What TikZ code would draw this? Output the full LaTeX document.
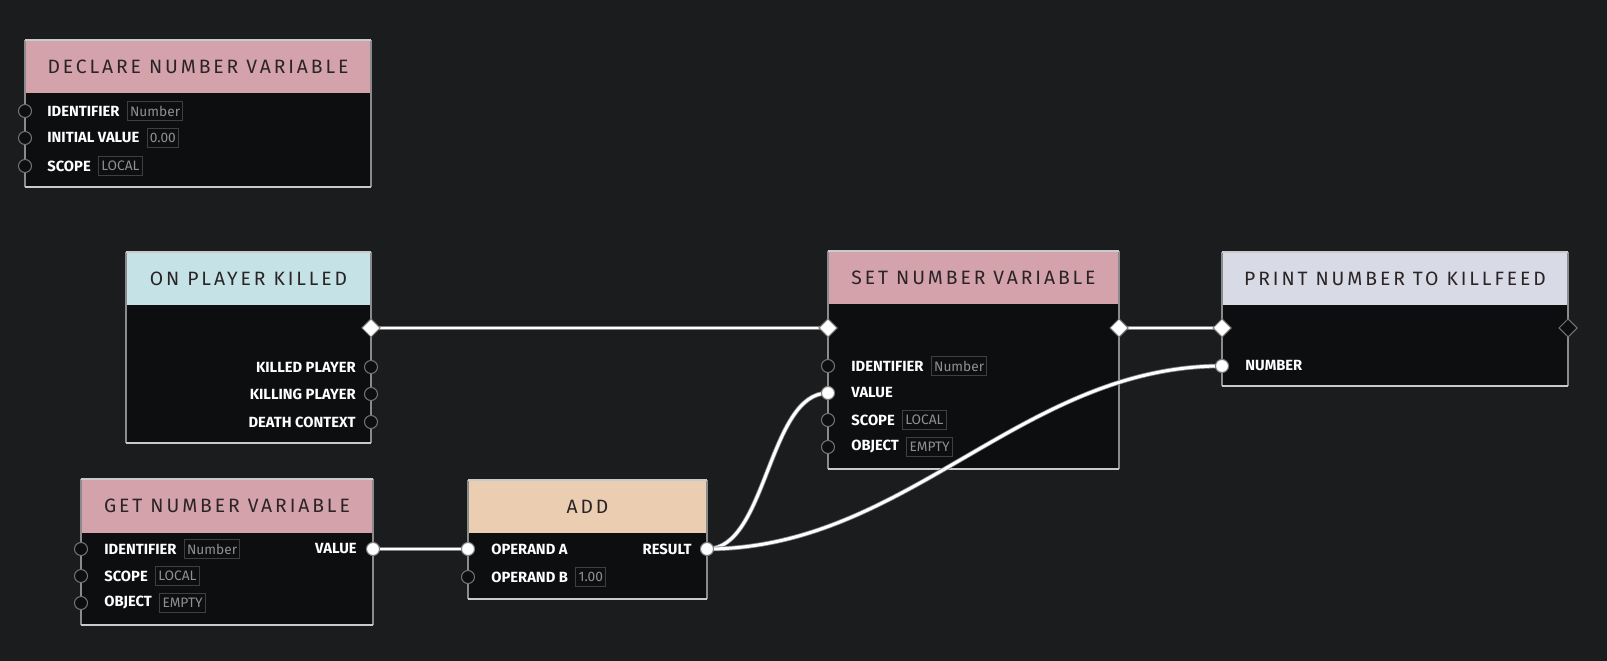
\documentclass[tikz,border=0pt]{standalone}
\usepackage{fontspec}
\setmainfont{Fira Sans}
\newfontfamily\headfont[LetterSpace=15]{Fira Sans}
\usetikzlibrary{positioning,shapes.geometric}

\definecolor{canvas}{HTML}{1B1C1E}
\definecolor{panel}{HTML}{0D0E10}
\definecolor{rimgray}{HTML}{8A8B8D}
\definecolor{bargray}{HTML}{C9CACC}
\definecolor{pinkhead}{HTML}{D4A2AA}
\definecolor{cyanhead}{HTML}{C5E3E6}
\definecolor{peachhead}{HTML}{EBCEB1}
\definecolor{lilachead}{HTML}{D8DAE5}
\definecolor{headink}{HTML}{2A2426}
\definecolor{tagline}{HTML}{3E3F42}
\definecolor{tagink}{HTML}{8F9092}

\pgfdeclarelayer{cards}
\pgfdeclarelayer{wires}
\pgfsetlayers{cards,wires,main}

\begin{document}
\begin{tikzpicture}[x=0.02cm, y=-0.02cm,
		rim/.style = {draw=rimgray, line width=0.6pt},
		edgebar/.style = {draw=bargray, line width=1.1pt},
		headtext/.style = {text=headink, font=\headfont\fontsize{11}{13}\selectfont},
		lab/.style = {text=white, inner sep=0pt, font=\bfseries\fontsize{8.4}{10}\selectfont},
		tag/.style = {draw=tagline, line width=0.5pt, text=tagink, inner xsep=1.6pt, inner ysep=0pt,
			minimum height=10.5pt, font=\fontsize{7.8}{9}\selectfont},
		port/.style = {circle, draw=rimgray!120, fill=panel, line width=0.6pt, minimum size=7.4pt, inner sep=0pt},
		hotport/.style = {port, fill=white, draw=gray},
		flow/.style = {diamond, draw=gray, fill=white, line width=0.6pt, minimum width=10.5pt, minimum height=10.5pt, inner sep=0pt},
		deadflow/.style = {flow, fill=panel, draw=rimgray!120},
		wire/.style = {draw=gray, double=white, double distance=1.7pt, line width=0.45pt}]
				% canvas
				\begin{pgfonlayer}{cards}
				\fill[canvas] (0,0) rectangle (1607,661);
				\end{pgfonlayer}
				\useasboundingbox (0,0) rectangle (1607,661);
				
				% card: name, x1, y1, x2, y2, header bottom, colour, title
				\def\card#1#2#3#4#5#6#7#8{
					\begin{pgfonlayer}{cards}
					\fill[panel] (#2,#3) rectangle (#4,#5);
					\fill[#7] (#2,#3) rectangle (#4,#6);
					\draw[rim] (#2,#3) -- (#2,#5) (#4,#3) -- (#4,#5);
					\draw[edgebar] (#2,#3) -- (#4,#3) (#2,#5) -- (#4,#5);
					\end{pgfonlayer}
					\node[headtext] (#1) at ({(#2+#4)/2},{(#3+#6)/2}) {#8};
				}
				
				\card{dec}{25}{40}{371}{187}{93}{pinkhead}{DECLARE NUMBER VARIABLE}
				\card{opk}{126}{252}{371}{443}{305}{cyanhead}{ON PLAYER KILLED}
				\card{get}{81}{479}{373}{625}{533}{pinkhead}{GET NUMBER VARIABLE}
				\card{add}{468}{480}{707}{599}{533}{peachhead}{ADD}
				\card{set}{828}{251}{1119}{469}{304}{pinkhead}{SET NUMBER VARIABLE}
				\card{prt}{1222}{252}{1568}{386}{305}{lilachead}{PRINT NUMBER TO KILLFEED}
				
				% declare number variable
				\node[port] (dec-id) at (25,111) {};
				\node[port] (dec-init) at (25,138) {};
				\node[port] (dec-scope) at (25,166) {};
				\node[lab, anchor=west] (dec-idl) at (47,111) {IDENTIFIER};
				\node[lab, anchor=west] (dec-initl) at (47,138) {INITIAL VALUE};
				\node[lab, anchor=west] (dec-scopel) at (47,166) {SCOPE};
				\node[tag, right=4pt of dec-idl] (dec-idt) {Number};
				\node[tag, right=4pt of dec-initl] (dec-initt) {0.00};
				\node[tag, right=4pt of dec-scopel] (dec-scopet) {LOCAL};
				
				% on player killed
				\node[flow] (opk-out) at (371,328) {};
				\node[port] (opk-killed) at (371,367) {};
				\node[port] (opk-killer) at (371,394) {};
				\node[port] (opk-ctx) at (371,422) {};
				\node[lab, anchor=east] (opk-killedl) at (356,367) {KILLED PLAYER};
				\node[lab, anchor=east] (opk-killerl) at (356,394) {KILLING PLAYER};
				\node[lab, anchor=east] (opk-ctxl) at (356,422) {DEATH CONTEXT};
				
				% get number variable
				\node[port] (get-id) at (81,549) {};
				\node[port] (get-scope) at (81,576) {};
				\node[port] (get-obj) at (81,603) {};
				\node[hotport] (get-val) at (373,549) {};
				\node[lab, anchor=west] (get-idl) at (104,549) {IDENTIFIER};
				\node[lab, anchor=west] (get-scopel) at (104,576) {SCOPE};
				\node[lab, anchor=west] (get-objl) at (104,603) {OBJECT};
				\node[lab, anchor=east] (get-vall) at (357,549) {VALUE};
				\node[tag, right=4pt of get-idl] (get-idt) {Number};
				\node[tag, right=4pt of get-scopel] (get-scopet) {LOCAL};
				\node[tag, right=4pt of get-objl] (get-objt) {EMPTY};
				
				% add
				\node[hotport] (add-a) at (468,549) {};
				\node[port] (add-b) at (468,577) {};
				\node[hotport] (add-res) at (707,549) {};
				\node[lab, anchor=west] (add-al) at (491,549) {OPERAND A};
				\node[lab, anchor=west] (add-bl) at (491,577) {OPERAND B};
				\node[lab, anchor=east] (add-resl) at (692,549) {RESULT};
				\node[tag, right=4pt of add-bl] (add-bt) {1.00};
				
				% set number variable
				\node[flow] (set-in) at (828,328) {};
				\node[flow] (set-out) at (1119,328) {};
				\node[port] (set-id) at (828,366) {};
				\node[hotport] (set-val) at (828,393) {};
				\node[port] (set-scope) at (828,420) {};
				\node[port] (set-obj) at (828,447) {};
				\node[lab, anchor=west] (set-idl) at (851,366) {IDENTIFIER};
				\node[lab, anchor=west] (set-vall) at (851,393) {VALUE};
				\node[lab, anchor=west] (set-scopel) at (851,420) {SCOPE};
				\node[lab, anchor=west] (set-objl) at (851,447) {OBJECT};
				\node[tag, right=4pt of set-idl] (set-idt) {Number};
				\node[tag, right=4pt of set-scopel] (set-scopet) {LOCAL};
				\node[tag, right=4pt of set-objl] (set-objt) {EMPTY};
				
				% print number to killfeed
				\node[flow] (prt-in) at (1222,328) {};
				\node[deadflow] (prt-out) at (1568,328) {};
				\node[hotport] (prt-num) at (1222,366) {};
				\node[lab, anchor=west] (prt-numl) at (1245,366) {NUMBER};
				
				% wires
				\begin{pgfonlayer}{wires}
				\draw[wire] (opk-out.center) -- (set-in.center);
				\draw[wire] (set-out.center) -- (prt-in.center);
				\draw[wire] (get-val.center) -- (add-a.center);
				\draw[wire] (add-res.center) .. controls +(60,0) and +(-60,0) .. (set-val.center);
				\draw[wire] (add-res.center) .. controls +(200,0) and +(-200,0) .. (prt-num.center);
				\end{pgfonlayer}
\end{tikzpicture}
\end{document}
